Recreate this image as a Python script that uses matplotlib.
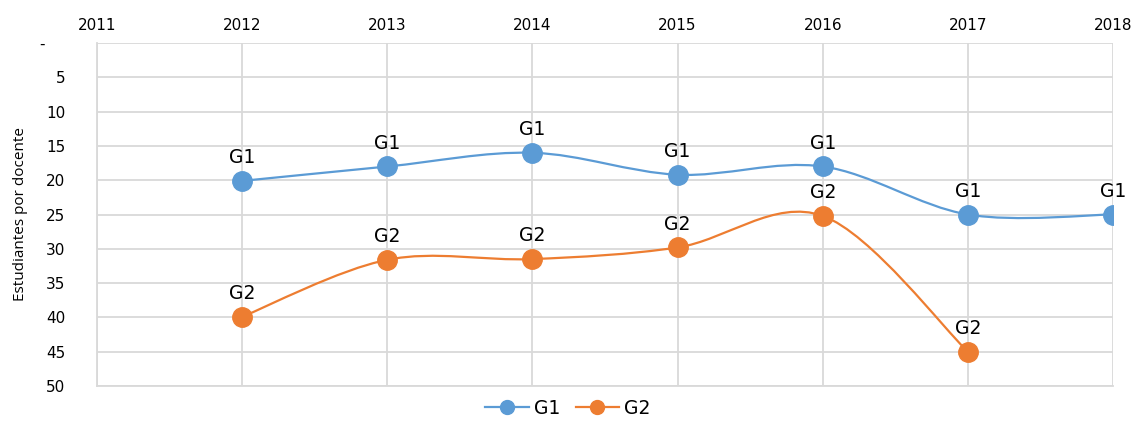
import numpy as np
import matplotlib
matplotlib.use("Agg")
import matplotlib.pyplot as plt
from matplotlib.path import Path
from matplotlib.patches import PathPatch
from matplotlib.lines import Line2D

# ─── Data ───────────────────────────────────────────────────
years = [2011, 2012, 2013, 2014, 2015, 2016, 2017, 2018]
g1_years = [2012, 2013, 2014, 2015, 2016, 2017, 2018]
g1_values = [20.1, 18.0, 16.0, 19.2, 18.0, 25.0, 25.0]
g2_years = [2012, 2013, 2014, 2015, 2016, 2017]
g2_values = [39.9, 31.6, 31.5, 29.8, 25.2, 45.0]
y_ticks = [0, 5, 10, 15, 20, 25, 30, 35, 40, 45, 50]
y_ticklabels = ["-\u2007\u2007", "5", "10", "15", "20", "25", "30", "35", "40", "45", "50"]

BLUE = "#5B9BD5"
ORANGE = "#ED7D31"
GRID = "#D9D9D9"


def smooth_path(xs, ys):
    """Catmull-Rom style bezier through the points (like Excel smoothed lines)."""
    pts = np.column_stack([xs, ys]).astype(float)
    n = len(pts)
    verts = [pts[0]]
    codes = [Path.MOVETO]
    for i in range(n - 1):
        p0 = pts[i - 1] if i > 0 else pts[i]
        p1 = pts[i]
        p2 = pts[i + 1]
        p3 = pts[i + 2] if i + 2 < n else pts[i + 1]
        c1 = p1 + (p2 - p0) / 6.0
        c2 = p2 - (p3 - p1) / 6.0
        verts += [c1, c2, p2]
        codes += [Path.CURVE4] * 3
    return Path(verts, codes)


fig = plt.figure(figsize=(11.36, 4.28), dpi=100)
ax = fig.add_axes([0.0854, 0.0981, 0.8944, 0.8014])

for xs, ys, color, name in [(g1_years, g1_values, BLUE, "G1"),
                            (g2_years, g2_values, ORANGE, "G2")]:
    ax.add_patch(PathPatch(smooth_path(xs, ys), facecolor="none",
                           edgecolor=color, lw=1.6, zorder=3))
    ax.plot(xs, ys, "o", color=color, markersize=14, zorder=4)
    for x, y in zip(xs, ys):
        ax.annotate(name, (x, y), xytext=(0, 10), textcoords="offset points",
                    ha="center", va="bottom", fontsize=13.5, color="#000000")

ax.set_xlim(years[0], years[-1])
ax.set_ylim(50, 0)
ax.set_xticks(years)
ax.set_xticklabels([str(y) for y in years])
ax.set_yticks(y_ticks)
ax.set_yticklabels(y_ticklabels)
ax.xaxis.tick_top()
ax.tick_params(axis="both", length=0, labelsize=11, colors="#000000")
ax.tick_params(axis="x", pad=7)
ax.tick_params(axis="y", pad=23)

ax.grid(True, color=GRID, lw=1.3, zorder=0)
ax.set_axisbelow(True)
for s in ["top", "right"]:
    ax.spines[s].set_visible(False)
for s in ["left", "bottom"]:
    ax.spines[s].set_color(GRID)
    ax.spines[s].set_linewidth(1.3)

fig.text(0.018, 0.5, "Estudiantes por docente", rotation=90, va="center",
         ha="center", fontsize=11, family="Open Sans")

handles = [Line2D([], [], color=BLUE, marker="o", markersize=10, lw=1.6),
           Line2D([], [], color=ORANGE, marker="o", markersize=10, lw=1.6)]
fig.legend(handles, ["G1", "G2"], loc="lower center", bbox_to_anchor=(0.5, -0.015),
           ncol=2, frameon=False, fontsize=13.5, handlelength=2.3,
           columnspacing=0.8, handletextpad=0.3)

fig.savefig("out.png", dpi=100)
